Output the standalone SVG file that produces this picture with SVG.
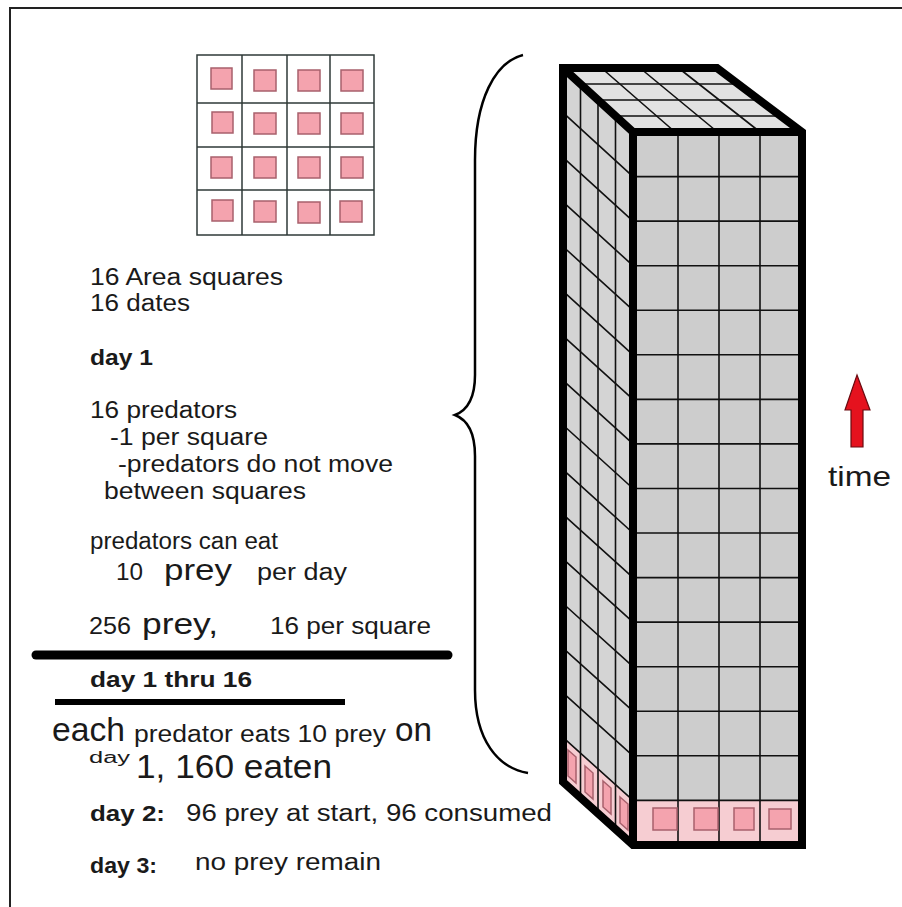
<svg xmlns="http://www.w3.org/2000/svg" width="902" height="907" viewBox="0 0 902 907">
<style>
.t{font-family:"Liberation Sans",Arial,sans-serif;font-size:23px;fill:#1a1a1a}
.b{font-weight:bold;font-size:22px}
.big{font-size:30px}
.huge{font-size:33px}
.cell{fill:none;stroke:#2f3a38;stroke-width:1.5}
.pk{fill:#f4a3ae;stroke:#a8606c;stroke-width:1.5}
.pkbg{fill:#f6cdd2}
.gl{stroke:#111;stroke-width:1.6;fill:none}
.edge{fill:none;stroke:#000;stroke-width:8;stroke-linejoin:miter}
</style>
<rect width="902" height="907" fill="#fff"/>
<path d="M10,907 V8 H902" fill="none" stroke="#222" stroke-width="2"/>

<g id="area-grid">
<rect x="197" y="55" width="177" height="180" class="cell"/>
<path class="cell" d="M242,55V235M287,55V235M330,55V235M197,103H374M197,147H374M197,190H374"/>
<g>
<rect class="pk" x="211" y="68" width="21" height="21"/><rect class="pk" x="254" y="70" width="22" height="21"/><rect class="pk" x="298" y="70" width="22" height="21"/><rect class="pk" x="341" y="70" width="22" height="21"/>
<rect class="pk" x="212" y="112" width="21" height="21"/><rect class="pk" x="254" y="113" width="22" height="21"/><rect class="pk" x="298" y="113" width="22" height="21"/><rect class="pk" x="341" y="113" width="22" height="21"/>
<rect class="pk" x="211" y="157" width="21" height="21"/><rect class="pk" x="254" y="157" width="22" height="21"/><rect class="pk" x="298" y="157" width="22" height="21"/><rect class="pk" x="341" y="157" width="22" height="21"/>
<rect class="pk" x="212" y="200" width="21" height="21"/><rect class="pk" x="254" y="201" width="22" height="21"/><rect class="pk" x="298" y="202" width="22" height="21"/><rect class="pk" x="340" y="201" width="22" height="21"/>
</g>
</g>

<g id="notes">
<text class="t" x="90" y="285" textLength="193" lengthAdjust="spacingAndGlyphs">16 Area squares</text>
<text class="t" x="90" y="311" textLength="100" lengthAdjust="spacingAndGlyphs">16 dates</text>
<text class="t b" x="90" y="365" textLength="63" lengthAdjust="spacingAndGlyphs">day 1</text>
<text class="t" x="90" y="418" textLength="147" lengthAdjust="spacingAndGlyphs">16 predators</text>
<text class="t" x="110" y="445" textLength="158" lengthAdjust="spacingAndGlyphs">-1 per square</text>
<text class="t" x="118" y="472" textLength="275" lengthAdjust="spacingAndGlyphs">-predators do not move</text>
<text class="t" x="104" y="499" textLength="202" lengthAdjust="spacingAndGlyphs">between squares</text>
<text class="t" x="90" y="549" textLength="188" lengthAdjust="spacingAndGlyphs">predators can eat</text>
<text class="t" x="116" y="580" textLength="27" lengthAdjust="spacingAndGlyphs">10</text>
<text class="t big" x="164" y="580" textLength="68" lengthAdjust="spacingAndGlyphs">prey</text>
<text class="t" x="257" y="580" textLength="90" lengthAdjust="spacingAndGlyphs">per day</text>
<text class="t" x="89" y="634" textLength="42" lengthAdjust="spacingAndGlyphs">256</text>
<text class="t big" x="142" y="634" textLength="76" lengthAdjust="spacingAndGlyphs">prey,</text>
<text class="t" x="270" y="634" textLength="161" lengthAdjust="spacingAndGlyphs">16 per square</text>
<text class="t b" x="90" y="687" textLength="162" lengthAdjust="spacingAndGlyphs">day 1 thru 16</text>
<text class="t huge" x="52" y="741" textLength="73" lengthAdjust="spacingAndGlyphs">each</text>
<text class="t" x="134" y="742" textLength="252" lengthAdjust="spacingAndGlyphs">predator eats 10 prey</text>
<text class="t huge" x="395" y="741" textLength="37" lengthAdjust="spacingAndGlyphs">on</text>
<text class="t" style="font-size:16px" x="89" y="763" textLength="41" lengthAdjust="spacingAndGlyphs">day</text>
<text class="t huge" x="136" y="778" textLength="196" lengthAdjust="spacingAndGlyphs">1, 160 eaten</text>
<text class="t b" x="90" y="821" textLength="75" lengthAdjust="spacingAndGlyphs">day 2:</text>
<text class="t" x="186" y="821" textLength="366" lengthAdjust="spacingAndGlyphs">96 prey at start, 96 consumed</text>
<text class="t b" x="90" y="873" textLength="67" lengthAdjust="spacingAndGlyphs">day 3:</text>
<text class="t" x="195" y="870" textLength="186" lengthAdjust="spacingAndGlyphs">no prey remain</text>
</g>

<g id="rules">
<line x1="36" y1="655" x2="448" y2="655" stroke="#000" stroke-width="9" stroke-linecap="round"/>
<line x1="55" y1="702" x2="345" y2="702" stroke="#000" stroke-width="6"/>
</g>

<g id="brace">
<path d="M523,55 C495,62 475,100 475,160 L475,375 C475,398 468,410 455,415 C468,420 475,432 475,456 L475,690 C475,740 498,768 528,773" fill="none" stroke="#000" stroke-width="2.5"/>
</g>

<g id="time-block">
<polygon points="563,68 717,68 802,132 633,132" fill="#e2e2e2"/>
<polygon points="563,68 633,132 633,845 563,782" fill="#d4d4d4"/>
<rect x="633" y="132" width="169" height="713" fill="#cdcdcd"/>
<polygon points="563,737.4 633,800.4 633,845 563,782" class="pkbg"/>
<rect x="633" y="800" width="169" height="45" class="pkbg"/>
<g class="gl">
<path d="M601.5,68 L675,132 M640,68 L717.5,132 M678.5,68 L760,132"/>
<path d="M580.5,84 L741,84 M598,100 L760,100 M615.5,116 L781,116"/>
<path d="M580.5,84 V798 M598,100 V813.8 M615.5,116 V829.4"/>
<path d="M678,132V845M719,132V845M760,132V845"/>
</g>
<path class="gl" d="M633,176.6H802M633,221.1H802M633,265.7H802M633,310.2H802M633,354.8H802M633,399.4H802M633,443.9H802M633,488.5H802M633,533H802M633,577.6H802M633,622.1H802M633,666.7H802M633,711.2H802M633,755.8H802M633,800.4H802"/>
<path class="gl" d="M563,112.6L633,176.6M563,157.3L633,221.1M563,201.9L633,265.7M563,246.5L633,310.2M563,291.1L633,354.8M563,335.8L633,399.4M563,380.4L633,443.9M563,425L633,488.5M563,469.6L633,533M563,514.3L633,577.6M563,558.9L633,622.1M563,603.5L633,666.7M563,648.1L633,711.2M563,692.8L633,755.8M563,737.4L633,800.4"/>
<g>
<rect class="pk" x="653" y="808" width="24" height="22"/>
<rect class="pk" x="694" y="808" width="24" height="22"/>
<rect class="pk" x="734" y="808" width="20" height="22"/>
<rect class="pk" x="769" y="809" width="22" height="20"/>
<polygon class="pk" points="568,750 576,757 576,783 568,776"/>
<polygon class="pk" points="585,766 593,773 593,799 585,792"/>
<polygon class="pk" points="603,781 611,788 611,814 603,807"/>
<polygon class="pk" points="620,797 628,804 628,830 620,823"/>
</g>
<polygon class="edge" points="563,68 717,68 802,132 802,845 633,845 563,782"/>
<path class="edge" d="M563,68 L633,132 L802,132 M633,132 V845"/>
</g>

<g id="time-arrow">
<polygon points="857,375 870,410 863,410 863,447 851,447 851,410 845,410" fill="#e5121e" stroke="#6a0a10" stroke-width="1.2"/>
<text class="t" style="font-size:28px" x="828" y="486" textLength="63" lengthAdjust="spacingAndGlyphs">time</text>
</g>
</svg>
